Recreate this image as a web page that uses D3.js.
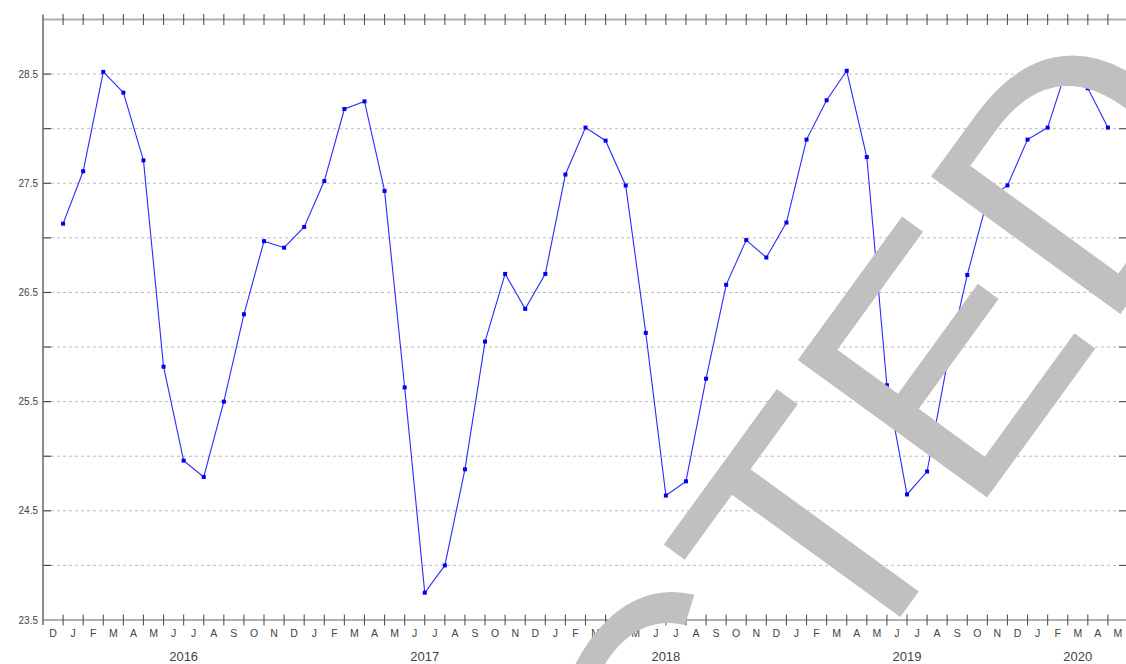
<!DOCTYPE html>
<html>
<head>
<meta charset="utf-8">
<script src="https://cdn.jsdelivr.net/npm/d3@7"></script>
<style>
  html, body { margin: 0; padding: 0; background: #fff; }
  svg { display: block; }
  text { font-family: "Liberation Sans", "DejaVu Sans", sans-serif; }
</style>
</head>
<body>
<svg id="chart" width="1126" height="664"></svg>
<script>
// ---- data ----
const monthLabels = ["D",
  "J","F","M","A","M","J","J","A","S","O","N","D",
  "J","F","M","A","M","J","J","A","S","O","N","D",
  "J","F","M","A","M","J","J","A","S","O","N","D",
  "J","F","M","A","M","J","J","A","S","O","N","D",
  "J","F","M","A","M"];
const values = [27.13, 27.61, 28.52, 28.33, 27.71, 25.82, 24.96, 24.81, 25.50, 26.30,
  26.97, 26.91, 27.10, 27.52, 28.18, 28.25, 27.43, 25.63, 23.75, 24.00,
  24.88, 26.05, 26.67, 26.35, 26.67, 27.58, 28.01, 27.89, 27.48, 26.13,
  24.64, 24.77, 25.71, 26.57, 26.98, 26.82, 27.14, 27.90, 28.26, 28.53,
  27.74, 25.65, 24.65, 24.86, 25.85, 26.66, 27.35, 27.48, 27.90, 28.01,
  28.58, 28.37, 28.01];
const years = ["2016", "2017", "2018", "2019", "2020"];
const yearFirstMonth = [1, 13, 25, 37, 49];
const yearLastMonth = [12, 24, 36, 48, 53];
const yLabelValues = [23.5, 24.5, 25.5, 26.5, 27.5, 28.5];
const yGridValues = [24, 24.5, 25, 25.5, 26, 26.5, 27, 27.5, 28, 28.5];
const watermark = "REDACTED";

// ---- scales ----
const svg = d3.select("#chart");
const padL = 43, padR = 1128, padT = 19.5, padB = 620;
const x = d3.scaleLinear().domain([0, monthLabels.length]).range([padL, padR]);
const y = d3.scaleLinear().domain([23.5, 29]).range([padB, padT]);

svg.append("rect").attr("width", 1126).attr("height", 664).attr("fill", "#fff");

// grid
svg.append("g").selectAll("line").data(yGridValues).join("line")
  .attr("x1", padL + 8).attr("x2", padR - 8)
  .attr("y1", d => y(d)).attr("y2", d => y(d))
  .attr("stroke", "#bcbcbc").attr("stroke-width", 1)
  .attr("stroke-dasharray", "3,3");

// left / right inner ticks
svg.append("g").selectAll("line").data(yGridValues).join("line")
  .attr("x1", padL).attr("x2", padL + 8)
  .attr("y1", d => y(d)).attr("y2", d => y(d))
  .attr("stroke", "#444").attr("stroke-width", 1.2);
svg.append("g").selectAll("line").data(yGridValues).join("line")
  .attr("x1", padR - 9).attr("x2", padR)
  .attr("y1", d => y(d)).attr("y2", d => y(d))
  .attr("stroke", "#555").attr("stroke-width", 1.2);

// axis lines
svg.append("line").attr("x1", padL).attr("x2", padR).attr("y1", y(29)).attr("y2", y(29))
  .attr("stroke", "#b0b0b0").attr("stroke-width", 2);
svg.append("line").attr("x1", padL).attr("x2", padR).attr("y1", padB).attr("y2", padB)
  .attr("stroke", "#b0b0b0").attr("stroke-width", 2);
svg.append("line").attr("x1", padL).attr("x2", padL).attr("y1", y(29) - 5).attr("y2", padB + 5)
  .attr("stroke", "#666").attr("stroke-width", 1.5);

// x ticks (month boundaries), top and bottom
const tickIdx = d3.range(1, monthLabels.length);
[y(29), padB].forEach(yy => {
  svg.append("g").selectAll("line").data(tickIdx).join("line")
    .attr("x1", d => x(d)).attr("x2", d => x(d))
    .attr("y1", yy - 5.5).attr("y2", yy + 5.5)
    .attr("stroke", "#555").attr("stroke-width", 1.1);
});

// y labels
svg.append("g").selectAll("text").data(yLabelValues).join("text")
  .attr("x", 38).attr("y", d => y(d)).attr("dy", "0.35em")
  .attr("text-anchor", "end").attr("font-size", 10).attr("fill", "#444")
  .text(d => d.toFixed(1));

// month labels
svg.append("g").selectAll("text").data(monthLabels).join("text")
  .attr("x", (d, i) => x(i + 0.5)).attr("y", 637)
  .attr("text-anchor", "middle").attr("font-size", 10.5).attr("fill", "#444")
  .text(d => d);

// year labels
svg.append("g").selectAll("text").data(years).join("text")
  .attr("x", (d, i) => x((yearFirstMonth[i] + yearLastMonth[i]) / 2 + 0.5))
  .attr("y", 661)
  .attr("text-anchor", "middle").attr("font-size", 13).attr("fill", "#444")
  .text(d => d);

// data line
const line = d3.line().x((d, i) => x(i + 1)).y(d => y(d));
svg.append("path").datum(values).attr("d", line)
  .attr("fill", "none").attr("stroke", "#2a2aff").attr("stroke-width", 1.1);
svg.append("g").selectAll("rect").data(values).join("rect")
  .attr("x", (d, i) => x(i + 1) - 2).attr("y", d => y(d) - 2)
  .attr("width", 4).attr("height", 4).attr("fill", "#0000ee");

// watermark
svg.append("text")
  .attr("transform", "translate(149,1651) rotate(-54)")
  .attr("font-family", "DejaVu Sans").attr("font-size", 340)
  .attr("fill", "#c0c0c0")
  .text(watermark);
</script>
</body>
</html>
